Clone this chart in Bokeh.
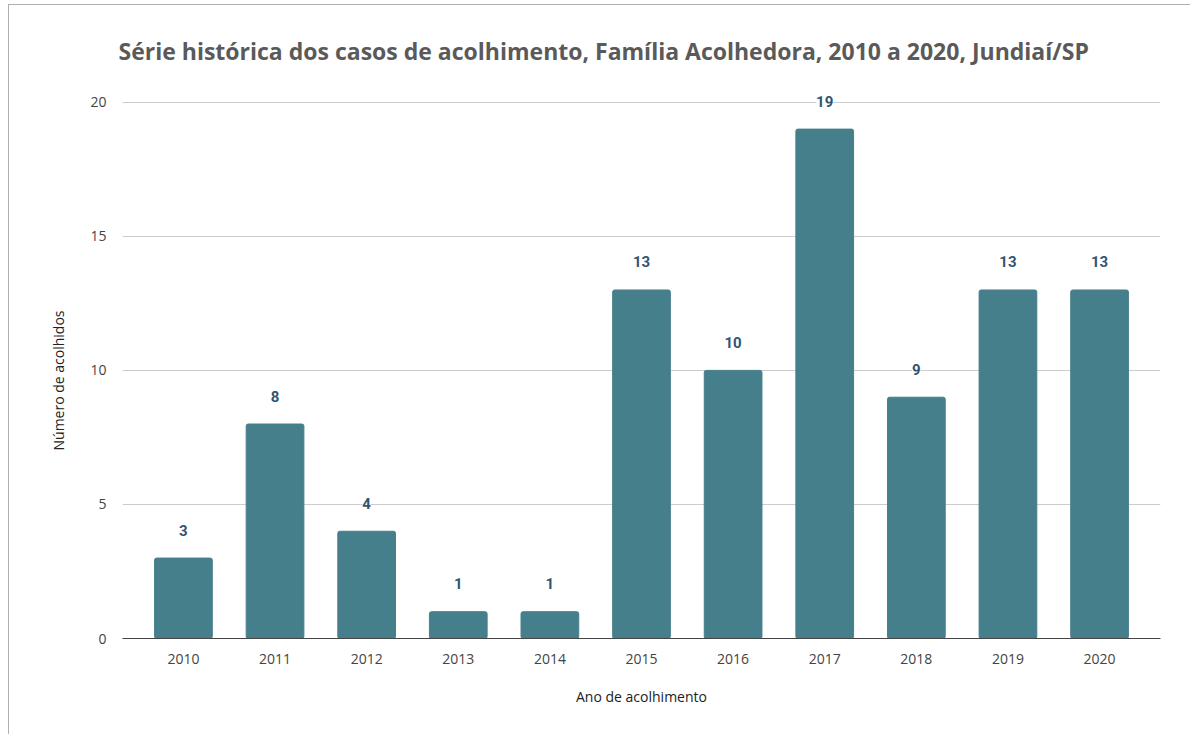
from bokeh.plotting import figure
from bokeh.models import ColumnDataSource, LabelSet, FactorRange, Range1d, Title
from bokeh.core.properties import value
from bokeh.embed import file_html
from bokeh.resources import INLINE

anos = ["2010", "2011", "2012", "2013", "2014", "2015", "2016", "2017", "2018", "2019", "2020"]
acolhidos = [3, 8, 4, 1, 1, 13, 10, 19, 9, 13, 13]
titulo = "Série histórica dos casos de acolhimento, Família Acolhedora, 2010 a 2020, Jundiaí/SP"
eixo_y = "Número de acolhidos"
eixo_x = "Ano de acolhimento"

src = ColumnDataSource(dict(ano=anos, n=acolhidos, lab=[str(v) for v in acolhidos]))

p = figure(width=1182, height=730, output_backend="svg", toolbar_location=None,
           x_range=FactorRange(factors=anos, range_padding=0.03),
           y_range=Range1d(0, 21),
           min_border_left=113, min_border_right=31, min_border_top=70, min_border_bottom=97)
p.styles = {"margin-left": "8px", "margin-top": "4px",
            "border-left": "1px solid #b0b0b0", "border-top": "1px solid #b0b0b0"}

p.vbar(x="ano", top="n", width=0.63, source=src, fill_color="#467f8c",
       line_color="#467f8c", border_radius=2)

labels = LabelSet(x="ano", y="n", text="lab", source=src, y_offset=28,
                  text_align="center", text_baseline="middle",
                  text_font=value("Roboto"), text_font_style="bold", text_font_size="15px",
                  text_color="#2f5573", background_fill_color="white")
p.add_layout(labels)

t = Title(text=titulo, align="left", text_font="Open Sans", text_font_style="bold",
          text_font_size="23px", text_color="#5a5a5a", standoff=18, offset=-4)
p.add_layout(t, "above")

ty = Title(text=eixo_y, align="left", text_font="Open Sans", text_font_style="normal",
           text_font_size="14px", text_color="#222222", standoff=40, offset=188)
p.add_layout(ty, "left")

p.outline_line_color = None
p.xgrid.grid_line_color = None
p.ygrid.grid_line_color = "#cccccc"
p.yaxis.ticker = [0, 5, 10, 15, 20]

for ax in (p.xaxis, p.yaxis):
    ax.major_tick_line_color = None
    ax.minor_tick_line_color = None
    ax.major_label_text_font = "Open Sans"
    ax.major_label_text_font_size = "14px"
    ax.major_label_text_color = "#444444"
    ax.axis_label_text_font = "Open Sans"
    ax.axis_label_text_font_size = "14px"
    ax.axis_label_text_font_style = "normal"
    ax.axis_label_text_color = "#222222"

p.yaxis.axis_line_color = None
p.yaxis.major_label_standoff = 10
p.xaxis.axis_line_color = "#444444"
p.xaxis.major_label_standoff = 9
p.xaxis.axis_label = eixo_x
p.xaxis.axis_label_standoff = 20

open("out.html", "w").write(file_html(p, INLINE))
